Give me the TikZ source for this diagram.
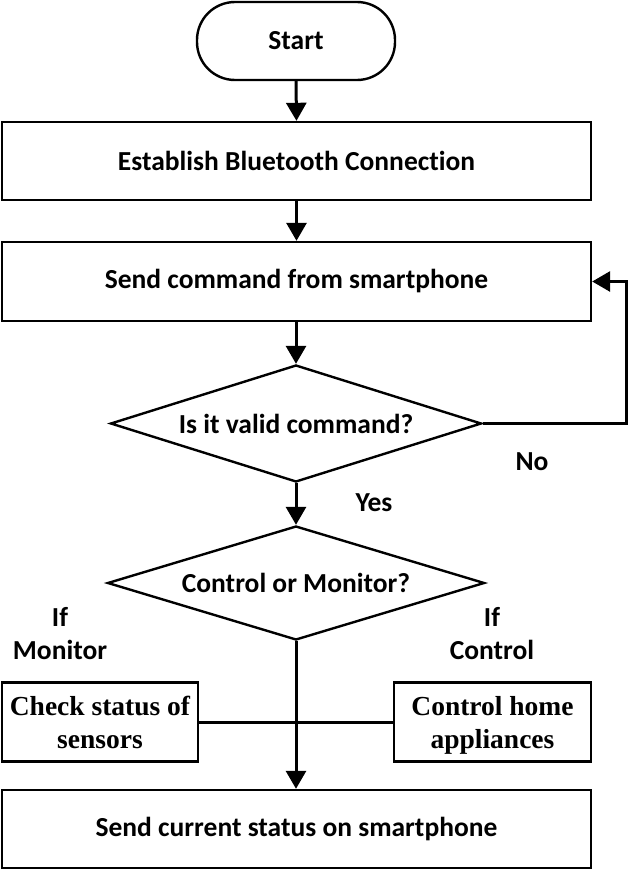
\documentclass[tikz,border=0pt]{standalone}
\usepackage{fontspec}
\setmainfont{Carlito}[Ligatures=NoCommon]
\newfontfamily\timesf{Liberation Serif}
\usetikzlibrary{shapes.geometric,arrows.meta}
\begin{document}
\begin{tikzpicture}[x=1pt,y=-1pt,
  every node/.style={font=\fontsize{27.5}{33}\selectfont\bfseries},
  boxnode/.style={draw,line width=2.4pt,rectangle,inner sep=0pt},
  decision/.style={draw,line width=2.4pt,diamond,inner sep=0pt},
  serifbox/.style={boxnode,align=center,text depth=0pt,font=\fontsize{27.5}{33}\selectfont\timesf\bfseries},
  arr/.style={line width=3pt,-{Triangle[width=20pt,length=18pt]}},
  plain/.style={line width=3pt}]
\fill[white] (0,0) rectangle (628,870);
\useasboundingbox (0,0) rectangle (628,870);
\node[boxnode,minimum width=198pt,minimum height=78pt,rounded corners=38pt] (start) at (296,41) {Start};
\node[boxnode,minimum width=589pt,minimum height=78pt] (est) at (296.5,161) {Establish Bluetooth Connection};
\node[boxnode,minimum width=589pt,minimum height=79pt] (send) at (296.5,281.5) {Send command from smartphone};
\node[decision,minimum width=371pt,minimum height=117pt,label=center:{Is it valid command?}] (valid) at (296,423.5) {};
\node[decision,minimum width=377pt,minimum height=114pt,label=center:{Control or Monitor?}] (ctrl) at (296,583) {};
\node[serifbox,minimum width=196pt,minimum height=79pt] (chk) at (100,722) {Check status of\\sensors};
\node[serifbox,minimum width=197pt,minimum height=79pt] (app) at (492.5,722) {Control home\\appliances};
\node[boxnode,minimum width=589pt,minimum height=78pt] (final) at (296.5,829) {Send current status on smartphone};
\node (no) at (532,462) {No};
\node (yes) at (374,503) {Yes};
\node[align=center] (ifmon) at (60,634) {If\\Monitor};
\node[align=center] (ifctl) at (492,634) {If\\Control};
\coordinate (loopc) at (626,423.5);
\draw[arr] (start.south) -- (est.north);
\draw[arr] (est.south) -- (send.north);
\draw[arr] (send.south -| valid.north) -- (valid.north);
\draw[arr] (valid.south) -- (ctrl.north);
\draw[arr] (valid.east) -- (loopc) |- (send.east);
\draw[arr] (ctrl.south) -- (final.north -| ctrl.south);
\draw[plain] (chk.east) -- (app.west);
\end{tikzpicture}
\end{document}
